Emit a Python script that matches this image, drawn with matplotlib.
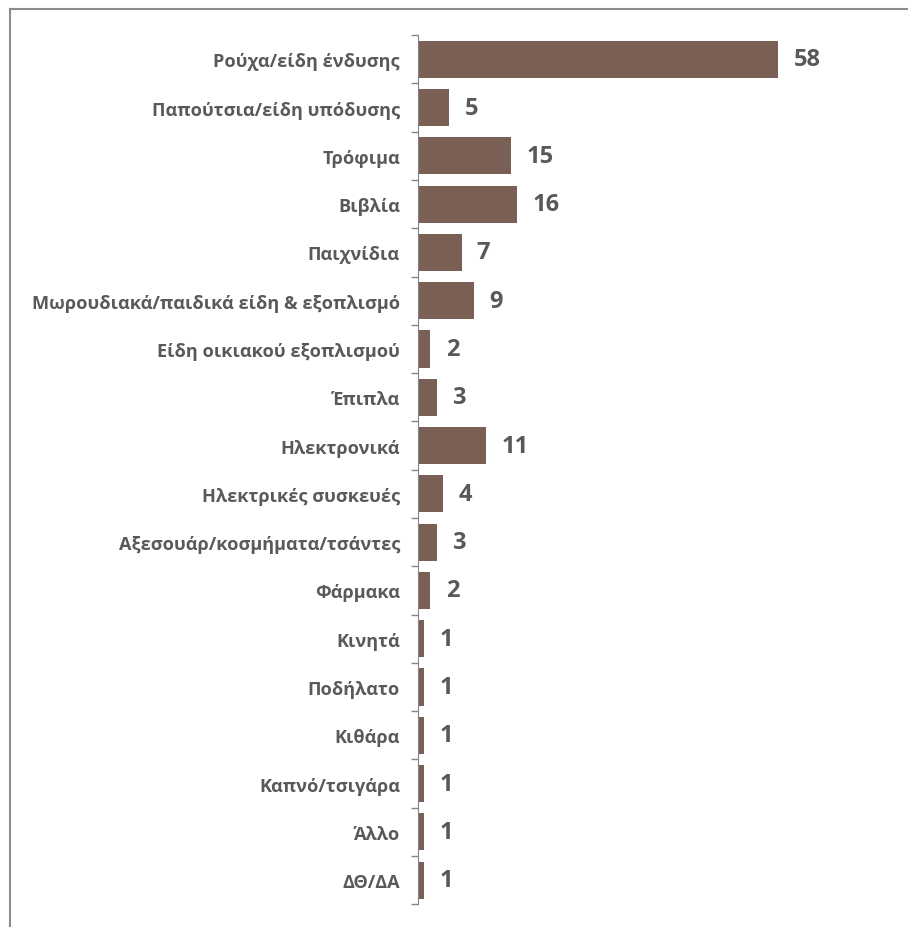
import numpy as np
import matplotlib
matplotlib.use('Agg')
import matplotlib.pyplot as plt
from matplotlib.lines import Line2D

categories = ["Ρούχα/είδη ένδυσης", "Παπούτσια/είδη υπόδυσης", "Τρόφιμα", "Βιβλία",
              "Παιχνίδια", "Μωρουδιακά/παιδικά είδη & εξοπλισμό", "Είδη οικιακού εξοπλισμού",
              "Έπιπλα", "Ηλεκτρονικά", "Ηλεκτρικές συσκευές", "Αξεσουάρ/κοσμήματα/τσάντες",
              "Φάρμακα", "Κινητά", "Ποδήλατο", "Κιθάρα", "Καπνό/τσιγάρα", "Άλλο", "ΔΘ/ΔΑ"]
values = [58, 5, 15, 16, 7, 9, 2, 3, 11, 4, 3, 2, 1, 1, 1, 1, 1, 1]

barcolor = "#7a5f55"
textcolor = "#595959"
axcolor = "#868686"

plt.rcParams['font.family'] = ['Open Sans', 'DejaVu Sans']

fig = plt.figure(figsize=(9.08, 9.28), dpi=100)
ax = fig.add_axes([0.4604, 0.0245, 0.479, 0.9365])

y = np.arange(len(categories))
ax.barh(y, values, height=0.77, color=barcolor)
ax.set_ylim(len(categories) - 0.5, -0.5)
ax.set_xlim(0, 70)

# value labels right of each bar
for yi, v in zip(y, values):
    ax.annotate(str(v), (v, yi), xytext=(11, 0), textcoords='offset points',
                ha='left', va='center', fontsize=17, fontweight='bold', color=textcolor)

ax.set_yticks(y, categories)
ax.set_yticks(np.arange(len(categories) + 1) - 0.5, minor=True)
ax.tick_params(axis='y', which='major', length=0, pad=13, labelsize=13.1, labelcolor=textcolor)
ax.tick_params(axis='y', which='minor', length=5, color=axcolor, width=1)
for lab in ax.get_yticklabels():
    lab.set_fontweight('bold')
ax.set_xticks([])
for s in ['top', 'right', 'bottom']:
    ax.spines[s].set_visible(False)
ax.spines['left'].set_color(axcolor)

# outer frame (top and left only visible)
fig.add_artist(Line2D([9.5/908, 1], [1 - 10/928, 1 - 10/928], color="#8c8c8c", lw=1.5, transform=fig.transFigure))
fig.add_artist(Line2D([9.5/908, 9.5/908], [0, 1 - 10/928], color="#8c8c8c", lw=1.5, transform=fig.transFigure))

fig.savefig("out.png", dpi=100)
